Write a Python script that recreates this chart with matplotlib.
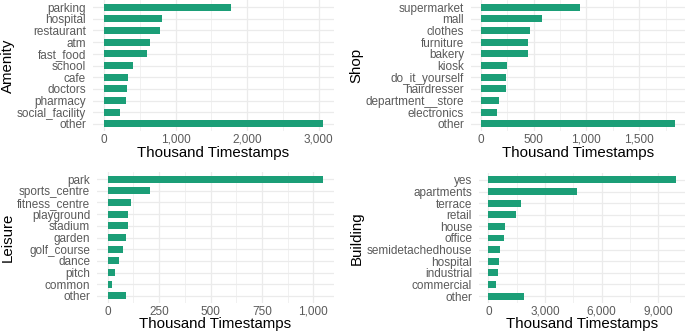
import matplotlib.pyplot as plt
from matplotlib.ticker import FuncFormatter, MultipleLocator

# data (thousand timestamps)
amenity_cats = ['parking', 'hospital', 'restaurant', 'atm', 'fast_food', 'school',
                'cafe', 'doctors', 'pharmacy', 'social_facility', 'other']
amenity_vals = [1781, 815, 787, 644, 603, 400, 331, 322, 313, 225, 3060]

shop_cats = ['supermarket', 'mall', 'clothes', 'furniture', 'bakery', 'kiosk',
             'do_it_yourself', 'hairdresser', 'department__store', 'electronics', 'other']
shop_vals = [937, 582, 462, 446, 443, 247, 237, 237, 174, 155, 1842]

leisure_cats = ['park', 'sports_centre', 'fitness_centre', 'playground', 'stadium', 'garden',
                'golf_course', 'dance', 'pitch', 'common', 'other']
leisure_vals = [1048, 207, 111, 99, 96, 90, 75, 54, 35, 22, 91]

building_cats = ['yes', 'apartments', 'terrace', 'retail', 'house', 'office',
                 'semidetachedhouse', 'hospital', 'industrial', 'commercial', 'other']
building_vals = [9912, 4711, 1734, 1471, 876, 823, 630, 560, 525, 420, 1891]

W, H = 685, 334
fig = plt.figure(figsize=(W / 100, H / 100), dpi=100)
plt.rcParams['font.family'] = ['Liberation Sans', 'DejaVu Sans']

green = '#1b9e77'
grid = '#ebebeb'


def panel(rect_px, cats, vals, title, step, title_x, xlab_y):
    x0, y0, x1, y1 = rect_px
    ax = fig.add_axes([x0 / W, 1 - y1 / H, (x1 - x0) / W, (y1 - y0) / H])
    n = len(cats)
    pos = list(range(n))
    ax.barh(pos, vals, height=0.6, color=green, zorder=3)
    m = max(vals)
    ax.set_xlim(-0.05 * m, 1.05 * m)
    ax.set_ylim(n - 1 + 0.6, -0.6)
    ax.set_yticks(pos)
    ax.set_yticklabels(cats)
    ax.xaxis.set_major_locator(MultipleLocator(step))
    ax.xaxis.set_minor_locator(MultipleLocator(step / 2))
    ax.xaxis.set_major_formatter(FuncFormatter(lambda v, p: f'{int(v):,}'))
    ax.grid(True, which='major', color=grid, lw=0.9, zorder=0)
    ax.grid(True, which='minor', axis='x', color=grid, lw=0.5, zorder=0)
    for s in ax.spines.values():
        s.set_visible(False)
    ax.tick_params(which='both', length=0, labelsize=8.5, labelcolor='#5a5a5a')
    ax.tick_params(axis='y', pad=5)
    ax.tick_params(axis='x', pad=2)
    ax.set_xlabel('Thousand Timestamps', fontsize=10.8)
    ax.set_ylabel(title, fontsize=10.8, va='center')
    ax.yaxis.set_label_coords(title_x / W, 1 - (y0 + y1) / 2 / H, transform=fig.transFigure)
    ax.xaxis.set_label_coords((x0 + x1) / 2 / W, 1 - xlab_y / H, transform=fig.transFigure)
    ax.xaxis.label.set_va('center')
    return ax


panel((93, 0, 334, 131), amenity_cats, amenity_vals, 'Amenity', 1000, 8, 153)
panel((471, 0, 685, 131), shop_cats, shop_vals, 'Shop', 500, 356, 153)
panel((97, 172, 334, 303), leisure_cats, leisure_vals, 'Leisure', 250, 8, 324)
panel((479, 173, 685, 303), building_cats, building_vals, 'Building', 3000, 357, 324)

fig.savefig('out.png', dpi=100)
